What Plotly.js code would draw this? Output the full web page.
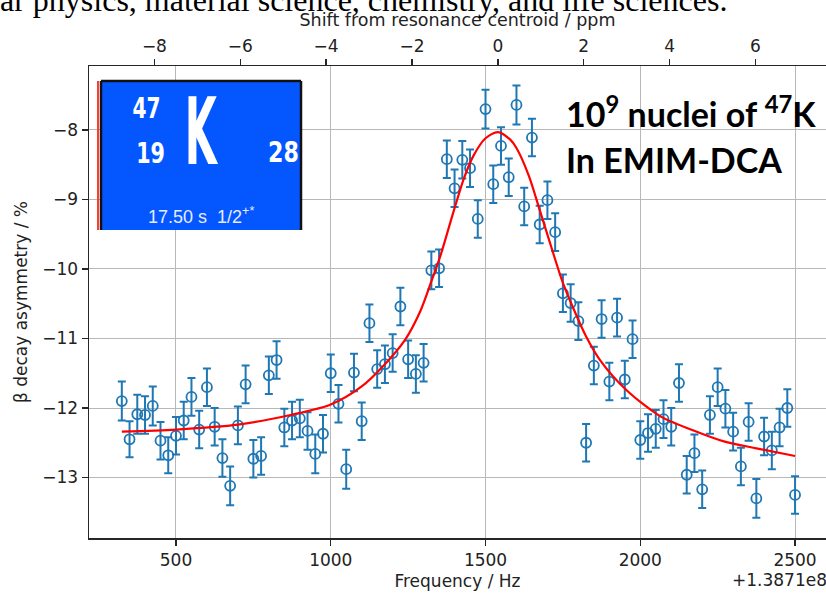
<!DOCTYPE html>
<html>
<head>
<meta charset="utf-8">
<script src="https://cdn.plot.ly/plotly-3.0.1.min.js"></script>
<style>
  html, body { margin: 0; padding: 0; background: #ffffff; }
  #chart { width: 826px; height: 595px; }
</style>
</head>
<body>
<div id="chart"></div>
<script>
// Beta-NMR resonance of 47K in EMIM-DCA: measured asymmetry and fitted line shape.
// Frequencies are offsets from 1.3871e8 Hz.
const frequencyHz = [
  325, 350, 375, 400, 425, 450, 475, 500, 525, 550,
  575, 600, 625, 650, 675, 700, 725, 750, 775, 800,
  825, 850, 875, 900, 925, 950, 975, 1000, 1025, 1050,
  1075, 1100, 1125, 1150, 1175, 1200, 1225, 1250, 1275, 1300,
  1325, 1350, 1375, 1400, 1425, 1450, 1475, 1500, 1525, 1550,
  1575, 1600, 1625, 1650, 1675, 1700, 1725, 1750, 1775, 1800,
  1825, 1850, 1875, 1900, 1925, 1950, 1975, 2000, 2025, 2050,
  2075, 2100, 2125, 2150, 2175, 2200, 2225, 2250, 2275, 2300,
  2325, 2350, 2375, 2400, 2425, 2450, 2475, 2500
];
const asymmetry = [
  -11.90, -12.45, -12.09, -12.10, -11.97, -12.47, -12.68, -12.40, -12.18, -11.84,
  -12.31, -11.70, -12.27, -12.72, -13.12, -12.25, -11.66, -12.73, -12.69, -11.53,
  -11.31, -12.28, -12.18, -12.15, -12.33, -12.66, -12.37, -11.50, -11.94, -12.88,
  -11.49, -12.19, -10.78, -11.44, -11.37, -11.21, -10.54, -11.30, -11.51, -11.35,
  -10.02, -9.99, -8.42, -8.84, -8.43, -8.55, -9.28, -7.70, -8.78, -8.23,
  -8.68, -7.64, -9.10, -8.11, -9.36, -9.01, -9.47, -10.35, -10.49, -10.75,
  -12.50, -11.39, -10.72, -11.62, -10.70, -11.59, -11.01, -12.46, -12.36, -12.30,
  -12.16, -12.27, -11.64, -12.96, -12.65, -13.17, -12.10, -11.70, -12.01, -12.34,
  -12.84, -12.20, -13.30, -12.41, -12.61, -12.28, -12.00, -13.25
];
const asymmetryErr = [
  0.28, 0.26, 0.28, 0.27, 0.28, 0.27, 0.26, 0.27, 0.27, 0.27,
  0.27, 0.27, 0.27, 0.27, 0.28, 0.27, 0.27, 0.27, 0.27, 0.27,
  0.27, 0.27, 0.27, 0.27, 0.27, 0.28, 0.27, 0.27, 0.27, 0.28,
  0.27, 0.27, 0.27, 0.27, 0.27, 0.27, 0.27, 0.27, 0.27, 0.27,
  0.27, 0.27, 0.27, 0.27, 0.27, 0.27, 0.27, 0.28, 0.27, 0.27,
  0.27, 0.28, 0.27, 0.27, 0.27, 0.27, 0.27, 0.27, 0.27, 0.27,
  0.27, 0.27, 0.27, 0.27, 0.27, 0.27, 0.27, 0.27, 0.27, 0.27,
  0.27, 0.27, 0.27, 0.27, 0.27, 0.27, 0.27, 0.27, 0.27, 0.27,
  0.27, 0.27, 0.28, 0.27, 0.27, 0.27, 0.27, 0.27
];
// Fitted resonance curve, sampled along the frequency axis
const fitFrequencyHz = [
  325, 500, 700, 870, 1000, 1100, 1175, 1240, 1290, 1325,
  1355, 1395, 1430, 1460, 1500, 1540, 1580, 1600, 1640, 1675,
  1715, 1750, 1790, 1825, 1870, 1955, 2065, 2170, 2270, 2375,
  2500
];
const fitAsymmetry = [
  -12.34, -12.31, -12.24, -12.10, -11.95, -11.69, -11.37, -11.02, -10.60, -10.18,
  -9.80, -9.20, -8.70, -8.38, -8.12, -8.03, -8.14, -8.26, -8.66, -9.15,
  -9.72, -10.20, -10.63, -10.97, -11.31, -11.74, -12.12, -12.32, -12.48, -12.58,
  -12.69
];
const freqTicks = [500, 1000, 1500, 2000, 2500];
const ppmTicks = [-8, -6, -4, -2, 0, 2, 4, 6];
const asymTicks = [-8, -9, -10, -11, -12, -13];

// Axis conversion: the top axis is the shift in ppm from the fitted centroid
const centroidHz = 1540;
const hzPerPpm = 138.71;
const freqRange = [219, 2600];
const ppmRange = freqRange.map(f => (f - centroidHz) / hzPerPpm);

// Plot-area geometry in pixels
const W = 826, H = 595;
const M = { l: 89, r: 0, t: 66, b: 57 };
const PW = W - M.l - M.r, PH = H - M.t - M.b;
const px = x => (x - M.l) / PW;
const py = y => (H - M.b - y) / PH;

const minus = v => String(v).replace('-', '\u2212');
const tickFont = { family: 'DejaVu Sans, sans-serif', size: 17, color: '#222222' };
const titleFont = { family: 'DejaVu Sans, sans-serif', size: 17, color: '#222222' };
const topTitleFont = { family: 'DejaVu Sans, sans-serif', size: 17.5, color: '#222222' };
const axisColor = '#262626';
const gridColor = '#b8b8b8';
const blue = '#1f77b4';

const traces = [
  {
    x: frequencyHz, y: asymmetry, type: 'scatter', mode: 'markers',
    marker: { symbol: 'circle-open', size: 10, color: blue, line: { width: 1.8, color: blue } },
    error_y: { type: 'data', array: asymmetryErr, visible: true, color: blue, thickness: 2, width: 4 },
    hoverinfo: 'x+y', showlegend: false
  },
  {
    x: fitFrequencyHz, y: fitAsymmetry, type: 'scatter', mode: 'lines',
    line: { color: '#ff0000', width: 2.2, shape: 'spline', smoothing: 0.8 },
    hoverinfo: 'skip', showlegend: false
  },
  { // carries the ppm axis
    x: [], y: [], xaxis: 'x2', yaxis: 'y', type: 'scatter', mode: 'markers',
    hoverinfo: 'skip', showlegend: false
  }
];

const condensed = 'Liberation Sans Narrow, DejaVu Sans Condensed, Liberation Sans, sans-serif';
const calibri = 'Lato, Open Sans, sans-serif';

const insetLeft = 101, insetRight = 301, insetTop = 81, insetBottom = 230;

// horizontal squeeze for the tile lettering
const squeeze = { '47': 0.8, '19': 0.82, '28': 0.88, 'K': 0.5 };

const layout = {
  width: W, height: H,
  margin: M,
  paper_bgcolor: '#ffffff', plot_bgcolor: '#ffffff',
  showlegend: false,
  xaxis: {
    range: freqRange, tickvals: freqTicks, ticktext: freqTicks.map(minus),
    ticks: 'outside', ticklen: 6, tickwidth: 1.3, tickcolor: axisColor,
    showline: true, linecolor: axisColor, linewidth: 1.5, mirror: false,
    showgrid: true, gridcolor: gridColor, gridwidth: 1, zeroline: false,
    tickfont: tickFont,
    title: { text: 'Frequency / Hz', font: titleFont, standoff: 6 }
  },
  xaxis2: {
    overlaying: 'x', side: 'top', anchor: 'y',
    range: ppmRange, tickvals: ppmTicks, ticktext: ppmTicks.map(minus),
    ticks: 'outside', ticklen: 6, tickwidth: 1.3, tickcolor: axisColor,
    showline: true, linecolor: axisColor, linewidth: 1.5,
    showgrid: false, zeroline: false,
    tickfont: tickFont,
    title: { text: 'Shift from resonance centroid / ppm', font: topTitleFont, standoff: 4 }
  },
  yaxis: {
    range: [-13.87, -7.08], tickvals: asymTicks, ticktext: asymTicks.map(minus),
    ticks: 'outside', ticklen: 6, tickwidth: 1.3, tickcolor: axisColor,
    showline: true, linecolor: axisColor, linewidth: 1.5, mirror: false,
    showgrid: true, gridcolor: gridColor, gridwidth: 1, zeroline: false,
    tickfont: tickFont,
    title: { text: '\u03b2 decay asymmetry / %', font: titleFont, standoff: 10 }
  },
  shapes: [
    { type: 'rect', xref: 'paper', yref: 'paper', layer: 'above',
      x0: px(insetLeft), x1: px(insetRight), y0: py(insetBottom), y1: py(insetTop),
      fillcolor: '#0457ff', line: { width: 0 } },
    { type: 'line', xref: 'paper', yref: 'paper', layer: 'above',
      x0: px(insetLeft), x1: px(insetRight), y0: py(insetTop), y1: py(insetTop),
      line: { color: '#111111', width: 2.5 } },
    { type: 'line', xref: 'paper', yref: 'paper', layer: 'above',
      x0: px(insetRight), x1: px(insetRight), y0: py(insetTop), y1: py(insetBottom),
      line: { color: '#111111', width: 2.5 } },
    { type: 'line', xref: 'paper', yref: 'paper', layer: 'above',
      x0: px(insetLeft), x1: px(insetLeft), y0: py(insetTop), y1: py(insetBottom),
      line: { color: '#111111', width: 2.5 } },
    { type: 'line', xref: 'paper', yref: 'paper', layer: 'above',
      x0: px(98), x1: px(98), y0: py(insetTop), y1: py(insetBottom),
      line: { color: '#ff3b30', width: 2 } }
  ],
  annotations: [
    { text: 'ar physics, material science, chemistry, and life sciences.',
      xref: 'paper', yref: 'paper', x: px(-2), y: py(0), xanchor: 'left', yanchor: 'middle',
      showarrow: false, font: { family: 'Liberation Serif, Times New Roman, serif', size: 32, color: '#000000' } },
    { text: '47', xref: 'paper', yref: 'paper', x: px(146), y: py(108), xanchor: 'center', yanchor: 'middle',
      showarrow: false, font: { family: condensed, size: 28, color: '#ffffff', weight: 'bold' } },
    { text: '19', xref: 'paper', yref: 'paper', x: px(150), y: py(154), xanchor: 'center', yanchor: 'middle',
      showarrow: false, font: { family: condensed, size: 28, color: '#ffffff', weight: 'bold' } },
    { text: 'K', xref: 'paper', yref: 'paper', x: px(201), y: py(133), xanchor: 'center', yanchor: 'middle',
      showarrow: false, font: { family: condensed, size: 92, color: '#ffffff', weight: 'bold' } },
    { text: '28', xref: 'paper', yref: 'paper', x: px(283), y: py(153), xanchor: 'center', yanchor: 'middle',
      showarrow: false, font: { family: condensed, size: 28, color: '#ffffff', weight: 'bold' } },
    { text: '17.50 s  1/2<sup>+*</sup>', xref: 'paper', yref: 'paper', x: px(201), y: py(215), xanchor: 'center', yanchor: 'middle',
      showarrow: false, font: { family: 'Liberation Sans, Arial, sans-serif', size: 18, color: '#e4ecff' } },
    { text: '<b>10<sup>9</sup> nuclei of <sup>47</sup>K</b>', xref: 'paper', yref: 'paper', x: px(564), y: py(112), xanchor: 'left', yanchor: 'middle',
      showarrow: false, font: { family: calibri, size: 34, color: '#000000' } },
    { text: '<b>In EMIM-DCA</b>', xref: 'paper', yref: 'paper', x: px(564), y: py(159), xanchor: 'left', yanchor: 'middle',
      showarrow: false, font: { family: calibri, size: 34, color: '#000000' } },
    { text: '+1.3871e8', xref: 'paper', yref: 'paper', x: px(829), y: py(580), xanchor: 'right', yanchor: 'middle',
      showarrow: false, font: titleFont }
  ]
};

Plotly.newPlot('chart', traces, layout, { displayModeBar: false, staticPlot: true }).then(gd => {
  // narrow the tile lettering like a nuclide-chart cell
  gd.querySelectorAll('.annotation-text').forEach(t => {
    const s = squeeze[t.textContent];
    if (s) {
      const b = t.getBBox();
      const cx = b.x + b.width / 2;
      t.setAttribute('transform', `translate(${cx},0) scale(${s},1) translate(${-cx},0)`);
    }
  });
});
</script>
</body>
</html>
